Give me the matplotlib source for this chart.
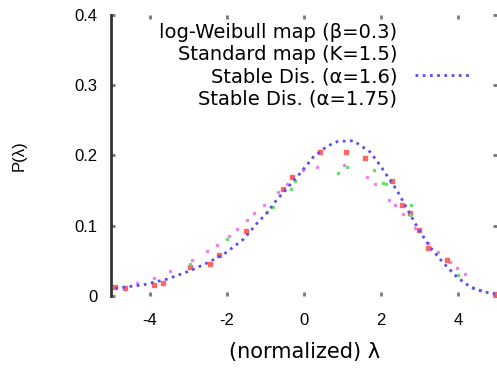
import matplotlib
matplotlib.use("Agg")
import matplotlib.pyplot as plt
from matplotlib.lines import Line2D

plt.rcParams['font.family'] = ['Liberation Sans', 'DejaVu Sans']

# Stable Dis. (alpha=1.6) - the dense blue dotted curve
x_stable16 = [-4.90, -4.16, -3.56, -2.95, -2.44, -2.02, -1.57, -1.23, -0.97, -0.71,
              -0.45, -0.10, 0.24, 0.59, 0.87, 1.28, 1.71, 1.97, 2.14, 2.40,
              2.57, 2.83, 3.00, 3.26, 3.61, 3.96, 4.30, 4.65, 4.95]
y_stable16 = [0.011, 0.016, 0.024, 0.036, 0.049, 0.062, 0.081, 0.103, 0.118, 0.137,
              0.153, 0.175, 0.198, 0.213, 0.220, 0.221, 0.205, 0.186, 0.172, 0.151,
              0.134, 0.108, 0.092, 0.070, 0.047, 0.027, 0.013, 0.006, 0.003]

# Standard map (K=1.5) - pink points
x_standard = [-4.33, -3.90, -3.47, -2.91, -2.52, -2.26, -1.96, -1.74, -1.48, -1.31,
              -1.05, -0.67, -0.45, -0.32, -0.02, 0.33, 1.02, 1.62, 1.84, 2.21,
              2.36, 2.57, 2.88, 3.22, 3.48, 3.78, 3.96, 4.17, 4.56]
y_standard = [0.019, 0.026, 0.036, 0.051, 0.064, 0.073, 0.085, 0.096, 0.108, 0.118,
              0.130, 0.148, 0.160, 0.169, 0.179, 0.183, 0.186, 0.169, 0.159, 0.137,
              0.129, 0.117, 0.097, 0.075, 0.062, 0.049, 0.040, 0.031, 0.009]

# log-Weibull map (beta=0.3) - red points
x_weibull = [-4.90, -4.64, -3.90, -3.65, -2.97, -2.44, -2.22, -1.51, -0.55, -0.32,
             0.41, 1.09, 1.58, 2.27, 2.53, 2.75, 2.99, 3.22, 3.70, 4.95]
y_weibull = [0.013, 0.011, 0.016, 0.019, 0.041, 0.046, 0.058, 0.093, 0.153, 0.169,
             0.205, 0.205, 0.197, 0.163, 0.130, 0.118, 0.094, 0.068, 0.051, 0.003]

# Stable Dis. (alpha=1.75) - green points
x_stable175 = [-2.97, -2.01, -0.97, -0.82, -0.35, -0.23, 0.87, 1.11, 1.81, 2.04,
               2.13, 2.77, 2.75, 3.98, 4.38]
y_stable175 = [0.046, 0.081, 0.120, 0.126, 0.153, 0.163, 0.175, 0.183, 0.180, 0.161,
               0.159, 0.130, 0.116, 0.030, 0.012]

x_ticks = [-4, -2, 0, 2, 4]
y_ticks = [0, 0.1, 0.2, 0.3, 0.4]
y_tick_labels = ["0", "0.1", "0.2", "0.3", "0.4"]

fig = plt.figure(figsize=(4.97, 3.70), dpi=100)
ax = fig.add_axes([0.224, 0.2, 0.776, 0.7595])

ax.plot(x_standard, y_standard, 's', color='#f070f0', markersize=2.0, alpha=0.8)
ax.plot(x_weibull, y_weibull, 's', color='#ff5a5a', markersize=2.3, alpha=0.9)
ax.plot(x_stable175, y_stable175, 's', color='#60e060', markersize=2.0, alpha=0.9)
ax.plot(x_stable16, y_stable16, color='#5a4ff0', linewidth=2.0,
        linestyle=(0, (1, 1.6)))

ax.set_xlim(-5, 5)
ax.set_ylim(0, 0.4)
ax.set_xticks(x_ticks)
ax.set_xticklabels([str(t) for t in x_ticks])
ax.set_yticks(y_ticks)
ax.set_yticklabels(y_tick_labels)
ax.tick_params(axis='both', direction='in', length=3, width=2, color='#777777',
               labelsize=12, top=True, right=True)
ax.tick_params(axis='x', pad=12)
ax.tick_params(axis='y', pad=10)

for side in ['top', 'right', 'bottom']:
    ax.spines[side].set_visible(False)
ax.spines['left'].set_linewidth(2)
ax.spines['left'].set_color('#333333')

ax.set_xlabel("(normalized) λ", fontsize=15, family='DejaVu Sans', labelpad=10)
ax.set_ylabel("P(λ)", fontsize=12, labelpad=34)

handles = [Line2D([], [], linestyle='none'),
           Line2D([], [], linestyle='none'),
           Line2D([], [], color='#5a4ff0', linewidth=2.0, linestyle=(0, (1, 1.6))),
           Line2D([], [], linestyle='none')]
labels = ["log-Weibull map (β=0.3)", "Standard map (K=1.5)",
          "Stable Dis. (α=1.6)", "Stable Dis. (α=1.75)"]
ax.legend(handles, labels, loc='upper right', bbox_to_anchor=(0.93, 0.97),
          frameon=False, markerfirst=False, handlelength=2.85,
          handletextpad=0.9, labelspacing=0.15, borderpad=0, borderaxespad=0,
          prop={'family': 'DejaVu Sans', 'size': 14})

fig.savefig("out.png", dpi=100)
